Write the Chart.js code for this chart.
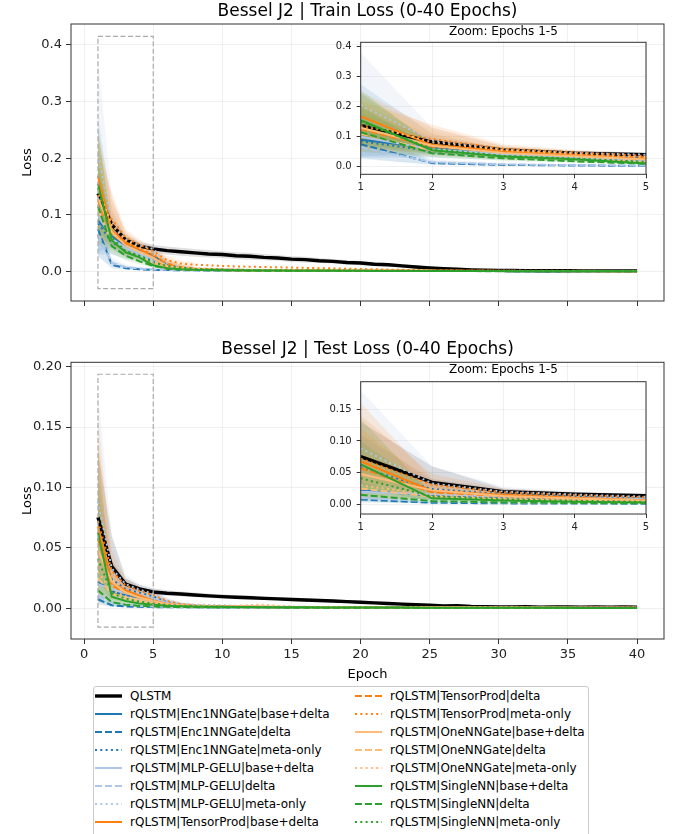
<!DOCTYPE html>
<html>
<head>
<meta charset="utf-8">
<script src="https://cdn.jsdelivr.net/npm/chart.js@4.4.0/dist/chart.umd.min.js"></script>
<style>
html, body { margin: 0; padding: 0; background: #fff; }
body { width: 688px; height: 834px; position: relative; overflow: hidden; font-family: 'DejaVu Sans', sans-serif; }
.box { position: absolute; }
#legend { position: absolute; left: 93px; top: 686px; width: 496px; height: 170px; border: 1px solid #cccccc; border-radius: 3px; background: rgba(255,255,255,0.8); box-sizing: border-box; }
.item { position: absolute; height: 18px; display: flex; align-items: center; font-size: 12px; color: #000; white-space: nowrap; }
.item svg { margin-right: 8px; flex: none; }
</style>
</head>
<body>
<div class="box" style="left:0;top:0;width:688px;height:330px"><canvas id="trainChart"></canvas></div>
<div class="box" style="left:0;top:330px;width:688px;height:356px"><canvas id="testChart"></canvas></div>
<div class="box" style="left:320px;top:18px;width:340px;height:178px"><canvas id="trainZoom"></canvas></div>
<div class="box" style="left:320px;top:356px;width:340px;height:178px"><canvas id="testZoom"></canvas></div>
<div id="legend"></div>
<script>
const EPOCHS = [1,2,3,4,5,6,7,8,9,10,11,12,13,14,15,16,17,18,19,20,21,22,23,24,25,26,27,28,29,30,31,32,33,34,35,36,37,38,39,40];

const SERIES = [
    'QLSTM',
    'rQLSTM|Enc1NNGate|base+delta', 'rQLSTM|Enc1NNGate|delta', 'rQLSTM|Enc1NNGate|meta-only',
    'rQLSTM|MLP-GELU|base+delta', 'rQLSTM|MLP-GELU|delta', 'rQLSTM|MLP-GELU|meta-only',
    'rQLSTM|TensorProd|base+delta', 'rQLSTM|TensorProd|delta', 'rQLSTM|TensorProd|meta-only',
    'rQLSTM|OneNNGate|base+delta', 'rQLSTM|OneNNGate|delta', 'rQLSTM|OneNNGate|meta-only',
    'rQLSTM|SingleNN|base+delta', 'rQLSTM|SingleNN|delta', 'rQLSTM|SingleNN|meta-only'
];

// ---- train loss, mean per epoch ----
const trainQLSTM = [0.138,0.083,0.056,0.045,0.040,0.037,0.035,0.033,0.031,0.030,0.028,0.027,0.025,0.024,0.022,0.021,0.019,0.018,0.016,0.015,0.013,0.012,0.010,0.008,0.0065,0.005,0.004,0.003,0.0025,0.002,0.0018,0.0016,0.0015,0.0014,0.0013,0.0012,0.0012,0.0011,0.0011,0.0010];
const trainEncBase = [0.090,0.062,0.046,0.038,0.028,0.012,0.0060,0.0045,0.0038,0.0032,0.0028,0.0025,0.0022,0.0020,0.0019,0.0018,0.0017,0.0016,0.0015,0.0014,0.0013,0.0012,0.0012,0.0011,0.0011,0.0010,0.0010,0.0009,0.0009,0.0009,0.0008,0.0008,0.0008,0.0007,0.0007,0.0007,0.0007,0.0006,0.0006,0.0006];
const trainEncDelta = [0.075,0.012,0.0060,0.0040,0.0030,0.0026,0.0023,0.0021,0.0019,0.0018,0.0017,0.0016,0.0015,0.0014,0.0013,0.0013,0.0012,0.0012,0.0011,0.0011,0.0010,0.0010,0.0010,0.0009,0.0009,0.0009,0.0008,0.0008,0.0008,0.0008,0.0007,0.0007,0.0007,0.0007,0.0006,0.0006,0.0006,0.0006,0.0006,0.0005];
const trainEncMeta = [0.085,0.052,0.036,0.028,0.020,0.0090,0.0050,0.0035,0.0030,0.0026,0.0023,0.0021,0.0019,0.0018,0.0017,0.0016,0.0015,0.0014,0.0013,0.0013,0.0012,0.0012,0.0011,0.0011,0.0010,0.0010,0.0010,0.0009,0.0009,0.0009,0.0008,0.0008,0.0008,0.0008,0.0007,0.0007,0.0007,0.0007,0.0006,0.0006];
const trainMlpBase = [0.100,0.058,0.042,0.032,0.022,0.010,0.0050,0.0036,0.0031,0.0027,0.0024,0.0022,0.0020,0.0019,0.0018,0.0017,0.0016,0.0015,0.0014,0.0013,0.0013,0.0012,0.0012,0.0011,0.0011,0.0010,0.0010,0.0010,0.0009,0.0009,0.0009,0.0008,0.0008,0.0008,0.0008,0.0007,0.0007,0.0007,0.0007,0.0006];
const trainMlpDelta = [0.065,0.015,0.0080,0.0050,0.0040,0.0030,0.0026,0.0023,0.0021,0.0019,0.0018,0.0017,0.0016,0.0015,0.0014,0.0013,0.0013,0.0012,0.0012,0.0011,0.0011,0.0010,0.0010,0.0010,0.0009,0.0009,0.0009,0.0008,0.0008,0.0008,0.0008,0.0007,0.0007,0.0007,0.0007,0.0006,0.0006,0.0006,0.0006,0.0006];
const trainMlpMeta = [0.205,0.088,0.057,0.046,0.040,0.015,0.0080,0.0050,0.0040,0.0035,0.0031,0.0028,0.0025,0.0023,0.0021,0.0020,0.0019,0.0018,0.0017,0.0016,0.0015,0.0014,0.0014,0.0013,0.0013,0.0012,0.0012,0.0011,0.0011,0.0010,0.0010,0.0010,0.0009,0.0009,0.0009,0.0008,0.0008,0.0008,0.0008,0.0007];
const trainTensorBase = [0.168,0.072,0.052,0.040,0.025,0.0070,0.0045,0.0035,0.0030,0.0027,0.0025,0.0023,0.0021,0.0020,0.0019,0.0018,0.0017,0.0016,0.0015,0.0014,0.0014,0.0013,0.0013,0.0012,0.0012,0.0011,0.0011,0.0010,0.0010,0.0010,0.0009,0.0009,0.0009,0.0008,0.0008,0.0008,0.0008,0.0007,0.0007,0.0007];
const trainTensorDelta = [0.125,0.066,0.049,0.039,0.030,0.014,0.0080,0.0050,0.0040,0.0035,0.0031,0.0028,0.0026,0.0024,0.0022,0.0021,0.0020,0.0019,0.0018,0.0017,0.0016,0.0015,0.0015,0.0014,0.0014,0.0013,0.0013,0.0012,0.0012,0.0011,0.0011,0.0011,0.0010,0.0010,0.0010,0.0009,0.0009,0.0009,0.0009,0.0008];
const trainTensorMeta = [0.135,0.092,0.060,0.048,0.036,0.020,0.014,0.012,0.011,0.010,0.0090,0.0085,0.0080,0.0075,0.0070,0.0065,0.0060,0.0055,0.0050,0.0045,0.0040,0.0035,0.0030,0.0028,0.0025,0.0023,0.0021,0.0020,0.0019,0.0018,0.0017,0.0016,0.0015,0.0014,0.0013,0.0012,0.0012,0.0011,0.0011,0.0010];
const trainOneBase = [0.130,0.070,0.046,0.035,0.024,0.010,0.0050,0.0035,0.0030,0.0026,0.0023,0.0021,0.0019,0.0018,0.0017,0.0016,0.0015,0.0014,0.0013,0.0013,0.0012,0.0012,0.0011,0.0011,0.0010,0.0010,0.0010,0.0009,0.0009,0.0009,0.0008,0.0008,0.0008,0.0008,0.0007,0.0007,0.0007,0.0007,0.0006,0.0006];
const trainOneDelta = [0.110,0.054,0.034,0.025,0.015,0.0070,0.0040,0.0030,0.0026,0.0023,0.0021,0.0019,0.0018,0.0017,0.0016,0.0015,0.0014,0.0013,0.0013,0.0012,0.0012,0.0011,0.0011,0.0010,0.0010,0.0010,0.0009,0.0009,0.0009,0.0008,0.0008,0.0008,0.0008,0.0007,0.0007,0.0007,0.0007,0.0006,0.0006,0.0006];
const trainOneMeta = [0.145,0.082,0.055,0.042,0.032,0.017,0.0090,0.0060,0.0050,0.0042,0.0037,0.0033,0.0030,0.0027,0.0025,0.0023,0.0022,0.0021,0.0020,0.0019,0.0018,0.0017,0.0016,0.0015,0.0015,0.0014,0.0014,0.0013,0.0013,0.0012,0.0012,0.0011,0.0011,0.0011,0.0010,0.0010,0.0010,0.0009,0.0009,0.0009];
const trainSingleBase = [0.155,0.055,0.034,0.025,0.011,0.0060,0.0040,0.0030,0.0026,0.0023,0.0021,0.0019,0.0018,0.0017,0.0016,0.0015,0.0014,0.0013,0.0012,0.0012,0.0011,0.0011,0.0010,0.0010,0.0009,0.0009,0.0009,0.0008,0.0008,0.0008,0.0007,0.0007,0.0007,0.0007,0.0006,0.0006,0.0006,0.0006,0.0005,0.0005];
const trainSingleDelta = [0.115,0.045,0.028,0.018,0.010,0.0050,0.0035,0.0028,0.0024,0.0021,0.0019,0.0017,0.0016,0.0015,0.0014,0.0013,0.0012,0.0012,0.0011,0.0011,0.0010,0.0010,0.0009,0.0009,0.0009,0.0008,0.0008,0.0008,0.0007,0.0007,0.0007,0.0007,0.0006,0.0006,0.0006,0.0006,0.0005,0.0005,0.0005,0.0005];
const trainSingleMeta = [0.148,0.060,0.036,0.027,0.016,0.010,0.0070,0.0050,0.0040,0.0035,0.0031,0.0028,0.0025,0.0023,0.0021,0.0020,0.0019,0.0018,0.0017,0.0016,0.0015,0.0014,0.0014,0.0013,0.0012,0.0012,0.0011,0.0011,0.0010,0.0010,0.0010,0.0009,0.0009,0.0009,0.0008,0.0008,0.0008,0.0008,0.0007,0.0007];

// ---- train loss, spread (low / high); rQLSTM bands only over the first epochs ----
const trainQLSTMLo = [0.100,0.070,0.048,0.038,0.033,0.030,0.028,0.026,0.025,0.024,0.022,0.021,0.020,0.019,0.017,0.016,0.015,0.014,0.012,0.011,0.010,0.009,0.007,0.006,0.004,0.003,0.0025,0.002,0.0015,0.0012,0.0010,0.0010,0.0009,0.0009,0.0008,0.0008,0.0007,0.0007,0.0007,0.0006];
const trainQLSTMHi = [0.180,0.095,0.064,0.052,0.047,0.044,0.042,0.040,0.038,0.036,0.034,0.033,0.031,0.029,0.027,0.026,0.024,0.022,0.020,0.019,0.017,0.015,0.013,0.011,0.009,0.007,0.0055,0.0045,0.0035,0.0030,0.0026,0.0023,0.0021,0.0020,0.0018,0.0017,0.0016,0.0015,0.0015,0.0014];
const trainEncBaseLo = [0.035,0.042,0.034,0.028,0.020,0.007,0.003,0.002];
const trainEncBaseHi = [0.150,0.085,0.060,0.050,0.038,0.019,0.010,0.007];
const trainEncDeltaLo = [0.028,0.006,0.003,0.002,0.0015,0.0013,0.0012,0.0011];
const trainEncDeltaHi = [0.120,0.020,0.010,0.007,0.005,0.004,0.0035,0.003];
const trainEncMetaLo = [0.030,0.030,0.022,0.018,0.012,0.005,0.003,0.002];
const trainEncMetaHi = [0.275,0.110,0.060,0.045,0.032,0.015,0.009,0.006];
const trainMlpBaseLo = [0.040,0.038,0.028,0.022,0.015,0.006,0.003,0.002];
const trainMlpBaseHi = [0.200,0.090,0.060,0.045,0.032,0.016,0.009,0.006];
const trainMlpDeltaLo = [0.025,0.008,0.004,0.003,0.002,0.0016,0.0014,0.0012];
const trainMlpDeltaHi = [0.110,0.025,0.013,0.008,0.006,0.0045,0.004,0.0035];
const trainMlpMetaLo = [0.060,0.060,0.045,0.038,0.033,0.009,0.005,0.003];
const trainMlpMetaHi = [0.380,0.130,0.070,0.055,0.047,0.022,0.012,0.008];
const trainTensorBaseLo = [0.090,0.050,0.040,0.032,0.019,0.004,0.0025,0.002];
const trainTensorBaseHi = [0.250,0.130,0.068,0.050,0.032,0.011,0.007,0.005];
const trainTensorDeltaLo = [0.060,0.045,0.038,0.031,0.023,0.009,0.005,0.003];
const trainTensorDeltaHi = [0.210,0.100,0.062,0.048,0.038,0.020,0.012,0.008];
const trainTensorMetaLo = [0.080,0.070,0.048,0.040,0.028,0.014,0.009,0.008];
const trainTensorMetaHi = [0.220,0.140,0.075,0.056,0.044,0.027,0.019,0.016];
const trainOneBaseLo = [0.060,0.048,0.035,0.027,0.017,0.006,0.003,0.002];
const trainOneBaseHi = [0.230,0.110,0.060,0.044,0.032,0.015,0.008,0.006];
const trainOneDeltaLo = [0.050,0.035,0.024,0.018,0.010,0.004,0.002,0.0015];
const trainOneDeltaHi = [0.190,0.085,0.048,0.034,0.021,0.010,0.006,0.0045];
const trainOneMetaLo = [0.070,0.058,0.042,0.034,0.025,0.011,0.006,0.004];
const trainOneMetaHi = [0.240,0.120,0.068,0.050,0.040,0.024,0.013,0.009];
const trainSingleBaseLo = [0.070,0.040,0.026,0.019,0.007,0.004,0.0025,0.002];
const trainSingleBaseHi = [0.255,0.075,0.044,0.032,0.016,0.009,0.006,0.0045];
const trainSingleDeltaLo = [0.050,0.032,0.020,0.013,0.006,0.003,0.002,0.0016];
const trainSingleDeltaHi = [0.200,0.065,0.038,0.025,0.015,0.008,0.005,0.004];
const trainSingleMetaLo = [0.075,0.045,0.027,0.020,0.011,0.006,0.004,0.003];
const trainSingleMetaHi = [0.245,0.080,0.046,0.034,0.022,0.014,0.010,0.007];

// ---- test loss, mean per epoch ----
const testQLSTM = [0.0753,0.0345,0.0200,0.0160,0.0135,0.0125,0.0118,0.0110,0.0103,0.0097,0.0092,0.0087,0.0082,0.0078,0.0073,0.0069,0.0065,0.0060,0.0055,0.0050,0.0045,0.0040,0.0035,0.0030,0.0025,0.0020,0.0022,0.0016,0.0013,0.0012,0.0011,0.0013,0.0010,0.0011,0.0012,0.0010,0.0011,0.0010,0.0011,0.0010];
const testEncBase = [0.022,0.014,0.011,0.0090,0.0075,0.0040,0.0025,0.0018,0.0015,0.0013,0.0012,0.0011,0.0010,0.0010,0.0009,0.0009,0.0008,0.0008,0.0008,0.0007,0.0007,0.0007,0.0006,0.0006,0.0006,0.0006,0.0005,0.0005,0.0005,0.0005,0.0005,0.0004,0.0004,0.0004,0.0004,0.0004,0.0004,0.0004,0.0003,0.0003];
const testEncDelta = [0.0075,0.0025,0.0015,0.0012,0.0010,0.0009,0.0008,0.0008,0.0007,0.0007,0.0006,0.0006,0.0006,0.0005,0.0005,0.0005,0.0005,0.0004,0.0004,0.0004,0.0004,0.0004,0.0004,0.0003,0.0003,0.0003,0.0003,0.0003,0.0003,0.0003,0.0003,0.0003,0.0002,0.0002,0.0002,0.0002,0.0002,0.0002,0.0002,0.0002];
const testEncMeta = [0.058,0.024,0.016,0.013,0.010,0.0050,0.0030,0.0022,0.0018,0.0015,0.0013,0.0012,0.0011,0.0010,0.0010,0.0009,0.0009,0.0008,0.0008,0.0007,0.0007,0.0007,0.0006,0.0006,0.0006,0.0006,0.0005,0.0005,0.0005,0.0005,0.0005,0.0005,0.0004,0.0004,0.0004,0.0004,0.0004,0.0004,0.0004,0.0003];
const testMlpBase = [0.020,0.016,0.0125,0.010,0.0080,0.0045,0.0028,0.0020,0.0016,0.0014,0.0013,0.0012,0.0011,0.0010,0.0010,0.0009,0.0009,0.0008,0.0008,0.0008,0.0007,0.0007,0.0007,0.0006,0.0006,0.0006,0.0006,0.0005,0.0005,0.0005,0.0005,0.0005,0.0004,0.0004,0.0004,0.0004,0.0004,0.0004,0.0004,0.0004];
const testMlpDelta = [0.010,0.0050,0.0030,0.0020,0.0015,0.0012,0.0010,0.0009,0.0008,0.0008,0.0007,0.0007,0.0006,0.0006,0.0006,0.0005,0.0005,0.0005,0.0005,0.0004,0.0004,0.0004,0.0004,0.0004,0.0004,0.0003,0.0003,0.0003,0.0003,0.0003,0.0003,0.0003,0.0003,0.0003,0.0002,0.0002,0.0002,0.0002,0.0002,0.0002];
const testMlpMeta = [0.088,0.033,0.020,0.0155,0.012,0.0060,0.0035,0.0030,0.0028,0.0026,0.0022,0.0019,0.0017,0.0015,0.0014,0.0013,0.0012,0.0011,0.0010,0.0010,0.0009,0.0009,0.0008,0.0008,0.0008,0.0007,0.0007,0.0007,0.0006,0.0006,0.0006,0.0006,0.0006,0.0005,0.0005,0.0005,0.0005,0.0005,0.0005,0.0004];
const testTensorBase = [0.068,0.021,0.015,0.0105,0.0065,0.0035,0.0025,0.0020,0.0017,0.0015,0.0014,0.0013,0.0012,0.0011,0.0010,0.0010,0.0009,0.0009,0.0008,0.0008,0.0008,0.0007,0.0007,0.0007,0.0006,0.0006,0.0006,0.0006,0.0005,0.0005,0.0005,0.0005,0.0005,0.0004,0.0004,0.0004,0.0004,0.0004,0.0004,0.0004];
const testTensorDelta = [0.057,0.019,0.013,0.0090,0.0060,0.0030,0.0020,0.0016,0.0014,0.0012,0.0011,0.0010,0.0010,0.0009,0.0009,0.0008,0.0008,0.0007,0.0007,0.0007,0.0006,0.0006,0.0006,0.0006,0.0005,0.0005,0.0005,0.0005,0.0005,0.0004,0.0004,0.0004,0.0004,0.0004,0.0004,0.0003,0.0003,0.0003,0.0003,0.0003];
const testTensorMeta = [0.072,0.031,0.019,0.0145,0.011,0.0060,0.0035,0.0025,0.0021,0.0018,0.0016,0.0015,0.0014,0.0013,0.0012,0.0011,0.0011,0.0010,0.0010,0.0009,0.0009,0.0008,0.0008,0.0008,0.0007,0.0007,0.0007,0.0007,0.0006,0.0006,0.0006,0.0006,0.0005,0.0005,0.0005,0.0005,0.0005,0.0005,0.0004,0.0004];
const testOneBase = [0.048,0.022,0.013,0.0090,0.0060,0.0035,0.0025,0.0020,0.0017,0.0015,0.0014,0.0013,0.0012,0.0011,0.0010,0.0010,0.0009,0.0009,0.0008,0.0008,0.0008,0.0007,0.0007,0.0007,0.0006,0.0006,0.0006,0.0006,0.0005,0.0005,0.0005,0.0005,0.0005,0.0004,0.0004,0.0004,0.0004,0.0004,0.0004,0.0004];
const testOneDelta = [0.025,0.012,0.0080,0.0055,0.0040,0.0025,0.0018,0.0014,0.0012,0.0011,0.0010,0.0009,0.0009,0.0008,0.0008,0.0007,0.0007,0.0007,0.0006,0.0006,0.0006,0.0006,0.0005,0.0005,0.0005,0.0005,0.0005,0.0004,0.0004,0.0004,0.0004,0.0004,0.0004,0.0004,0.0003,0.0003,0.0003,0.0003,0.0003,0.0003];
const testOneMeta = [0.030,0.015,0.010,0.0070,0.0050,0.0030,0.0022,0.0018,0.0016,0.0015,0.0018,0.0028,0.0030,0.0020,0.0014,0.0012,0.0011,0.0010,0.0010,0.0009,0.0009,0.0008,0.0008,0.0008,0.0007,0.0007,0.0007,0.0006,0.0006,0.0006,0.0006,0.0006,0.0005,0.0005,0.0005,0.0005,0.0005,0.0005,0.0004,0.0004];
const testSingleBase = [0.063,0.0095,0.0060,0.0040,0.0030,0.0022,0.0018,0.0015,0.0013,0.0012,0.0011,0.0010,0.0009,0.0009,0.0008,0.0008,0.0007,0.0007,0.0007,0.0006,0.0006,0.0006,0.0006,0.0005,0.0005,0.0005,0.0005,0.0005,0.0004,0.0004,0.0004,0.0004,0.0004,0.0004,0.0004,0.0003,0.0003,0.0003,0.0003,0.0003];
const testSingleDelta = [0.015,0.0050,0.0030,0.0020,0.0015,0.0012,0.0010,0.0009,0.0008,0.0007,0.0007,0.0006,0.0006,0.0006,0.0005,0.0005,0.0005,0.0005,0.0004,0.0004,0.0004,0.0004,0.0004,0.0004,0.0003,0.0003,0.0003,0.0003,0.0003,0.0003,0.0003,0.0003,0.0003,0.0002,0.0002,0.0002,0.0002,0.0002,0.0002,0.0002];
const testSingleMeta = [0.041,0.0125,0.0080,0.0055,0.0040,0.0028,0.0020,0.0016,0.0014,0.0012,0.0011,0.0010,0.0010,0.0009,0.0009,0.0008,0.0008,0.0007,0.0007,0.0007,0.0006,0.0006,0.0006,0.0006,0.0005,0.0005,0.0005,0.0005,0.0005,0.0004,0.0004,0.0004,0.0004,0.0004,0.0004,0.0004,0.0003,0.0003,0.0003,0.0003];

// ---- test loss, spread (low / high) ----
const testQLSTMLo = [0.050,0.025,0.016,0.013,0.011,0.0105,0.0098,0.0092,0.0086,0.0080,0.0076,0.0072,0.0068,0.0064,0.0060,0.0056,0.0052,0.0048,0.0044,0.0040,0.0036,0.0032,0.0028,0.0024,0.0020,0.0016,0.0016,0.0012,0.0010,0.0009,0.0008,0.0009,0.0007,0.0008,0.0008,0.0007,0.0008,0.0007,0.0008,0.0007];
const testQLSTMHi = [0.130,0.060,0.025,0.0195,0.0165,0.0150,0.0140,0.0130,0.0123,0.0117,0.0111,0.0105,0.0099,0.0094,0.0089,0.0084,0.0079,0.0074,0.0068,0.0062,0.0056,0.0050,0.0045,0.0040,0.0033,0.0027,0.0030,0.0022,0.0018,0.0016,0.0015,0.0018,0.0014,0.0015,0.0016,0.0014,0.0015,0.0014,0.0015,0.0014];
const testEncBaseLo = [0.008,0.008,0.007,0.006,0.005,0.0025,0.0015,0.001];
const testEncBaseHi = [0.045,0.022,0.016,0.013,0.011,0.006,0.0035,0.0026];
const testEncDeltaLo = [0.003,0.001,0.0007,0.0006,0.0005,0.0005,0.0004,0.0004];
const testEncDeltaHi = [0.015,0.005,0.003,0.0022,0.0018,0.0015,0.0013,0.0012];
const testEncMetaLo = [0.020,0.012,0.010,0.008,0.006,0.003,0.0018,0.0013];
const testEncMetaHi = [0.110,0.040,0.024,0.018,0.014,0.008,0.0045,0.0033];
const testMlpBaseLo = [0.008,0.010,0.008,0.007,0.005,0.003,0.0018,0.0013];
const testMlpBaseHi = [0.040,0.024,0.018,0.014,0.011,0.0065,0.004,0.003];
const testMlpDeltaLo = [0.004,0.002,0.0015,0.001,0.0008,0.0007,0.0006,0.0005];
const testMlpDeltaHi = [0.020,0.009,0.005,0.0035,0.0025,0.002,0.0017,0.0015];
const testMlpMetaLo = [0.030,0.018,0.014,0.011,0.009,0.004,0.0025,0.002];
const testMlpMetaHi = [0.180,0.060,0.028,0.020,0.016,0.009,0.005,0.004];
const testTensorBaseLo = [0.030,0.014,0.011,0.008,0.0045,0.0022,0.0015,0.0012];
const testTensorBaseHi = [0.160,0.040,0.021,0.014,0.009,0.005,0.0035,0.0028];
const testTensorDeltaLo = [0.025,0.012,0.009,0.006,0.004,0.002,0.0013,0.001];
const testTensorDeltaHi = [0.120,0.032,0.018,0.012,0.008,0.0045,0.003,0.0023];
const testTensorMetaLo = [0.035,0.020,0.014,0.011,0.008,0.004,0.0025,0.0018];
const testTensorMetaHi = [0.140,0.048,0.025,0.018,0.014,0.008,0.005,0.0035];
const testOneBaseLo = [0.020,0.013,0.008,0.006,0.004,0.0022,0.0016,0.0012];
const testOneBaseHi = [0.120,0.035,0.018,0.012,0.008,0.005,0.0035,0.0028];
const testOneDeltaLo = [0.010,0.006,0.004,0.003,0.0022,0.0014,0.001,0.0008];
const testOneDeltaHi = [0.060,0.020,0.012,0.008,0.006,0.0037,0.0026,0.002];
const testOneMetaLo = [0.012,0.008,0.006,0.0045,0.003,0.0018,0.0013,0.001];
const testOneMetaHi = [0.070,0.025,0.015,0.010,0.007,0.0045,0.0032,0.0026];
const testSingleBaseLo = [0.025,0.005,0.0035,0.0025,0.0018,0.0013,0.001,0.0009];
const testSingleBaseHi = [0.135,0.016,0.009,0.006,0.0045,0.0032,0.0026,0.0022];
const testSingleDeltaLo = [0.005,0.002,0.0015,0.001,0.0008,0.0006,0.0005,0.0005];
const testSingleDeltaHi = [0.035,0.009,0.005,0.0032,0.0024,0.0019,0.0016,0.0014];
const testSingleMetaLo = [0.015,0.007,0.005,0.0035,0.0025,0.0018,0.0013,0.001];
const testSingleMetaHi = [0.100,0.022,0.012,0.008,0.006,0.004,0.003,0.0024];

const TRAIN_MEAN = [trainQLSTM, trainEncBase, trainEncDelta, trainEncMeta, trainMlpBase, trainMlpDelta, trainMlpMeta, trainTensorBase, trainTensorDelta, trainTensorMeta, trainOneBase, trainOneDelta, trainOneMeta, trainSingleBase, trainSingleDelta, trainSingleMeta];
const TRAIN_LO = [trainQLSTMLo, trainEncBaseLo, trainEncDeltaLo, trainEncMetaLo, trainMlpBaseLo, trainMlpDeltaLo, trainMlpMetaLo, trainTensorBaseLo, trainTensorDeltaLo, trainTensorMetaLo, trainOneBaseLo, trainOneDeltaLo, trainOneMetaLo, trainSingleBaseLo, trainSingleDeltaLo, trainSingleMetaLo];
const TRAIN_HI = [trainQLSTMHi, trainEncBaseHi, trainEncDeltaHi, trainEncMetaHi, trainMlpBaseHi, trainMlpDeltaHi, trainMlpMetaHi, trainTensorBaseHi, trainTensorDeltaHi, trainTensorMetaHi, trainOneBaseHi, trainOneDeltaHi, trainOneMetaHi, trainSingleBaseHi, trainSingleDeltaHi, trainSingleMetaHi];
const TEST_MEAN = [testQLSTM, testEncBase, testEncDelta, testEncMeta, testMlpBase, testMlpDelta, testMlpMeta, testTensorBase, testTensorDelta, testTensorMeta, testOneBase, testOneDelta, testOneMeta, testSingleBase, testSingleDelta, testSingleMeta];
const TEST_LO = [testQLSTMLo, testEncBaseLo, testEncDeltaLo, testEncMetaLo, testMlpBaseLo, testMlpDeltaLo, testMlpMetaLo, testTensorBaseLo, testTensorDeltaLo, testTensorMetaLo, testOneBaseLo, testOneDeltaLo, testOneMetaLo, testSingleBaseLo, testSingleDeltaLo, testSingleMetaLo];
const TEST_HI = [testQLSTMHi, testEncBaseHi, testEncDeltaHi, testEncMetaHi, testMlpBaseHi, testMlpDeltaHi, testMlpMetaHi, testTensorBaseHi, testTensorDeltaHi, testTensorMetaHi, testOneBaseHi, testOneDeltaHi, testOneMetaHi, testSingleBaseHi, testSingleDeltaHi, testSingleMetaHi];

const X_TICKS = [0,5,10,15,20,25,30,35,40];
const ZOOM_X_TICKS = [1,2,3,4,5];
const TRAIN_Y_TICKS = [0,0.1,0.2,0.3,0.4];
const TEST_Y_TICKS = [0,0.05,0.1,0.15,0.2];
const TEST_ZOOM_Y_TICKS = [0,0.05,0.1,0.15];

// ---- styles ----
const BLUE = '#1f77b4', LBLUE = '#aec7e8', ORANGE = '#ff7f0e', LORANGE = '#ffbb78', GREEN = '#2ca02c';
const LINE_COLORS = ['#000000', BLUE, BLUE, BLUE, LBLUE, LBLUE, LBLUE, ORANGE, ORANGE, ORANGE, LORANGE, LORANGE, LORANGE, GREEN, GREEN, GREEN];
const BAND_COLORS = ['rgba(0,0,0,0.12)',
    'rgba(31,119,180,0.13)', 'rgba(31,119,180,0.13)', 'rgba(31,119,180,0.13)',
    'rgba(174,199,232,0.16)', 'rgba(174,199,232,0.16)', 'rgba(174,199,232,0.16)',
    'rgba(255,127,14,0.13)', 'rgba(255,127,14,0.13)', 'rgba(255,127,14,0.13)',
    'rgba(255,187,120,0.16)', 'rgba(255,187,120,0.16)', 'rgba(255,187,120,0.16)',
    'rgba(44,160,44,0.13)', 'rgba(44,160,44,0.13)', 'rgba(44,160,44,0.13)'];
const SOLID = [], DASHED = [7, 3], DOTTED = [2, 3.3];
const DASHES = [SOLID, SOLID, DASHED, DOTTED, SOLID, DASHED, DOTTED, SOLID, DASHED, DOTTED, SOLID, DASHED, DOTTED, SOLID, DASHED, DOTTED];
const LINE_WIDTHS = [3.4, 2, 2, 2, 2, 2, 2, 2, 2, 2, 2, 2, 2, 2, 2, 2];

Chart.defaults.font.family = "'DejaVu Sans', sans-serif";
Chart.defaults.color = '#222';

function points(values) {
    return values.map((v, k) => ({ x: EPOCHS[k], y: v }));
}

function makeDatasets(means, los, his) {
    const sets = [];
    for (let i = 0; i < SERIES.length; ++i) {
        sets.push({
            label: SERIES[i] + ' low', data: points(los[i]),
            borderColor: 'rgba(0,0,0,0)', borderWidth: 0, pointRadius: 0, fill: false, order: 100 - i
        });
        sets.push({
            label: SERIES[i] + ' high', data: points(his[i]),
            borderColor: 'rgba(0,0,0,0)', borderWidth: 0, pointRadius: 0,
            fill: '-1', backgroundColor: BAND_COLORS[i], order: 100 - i
        });
        sets.push({
            label: SERIES[i], data: points(means[i]),
            borderColor: LINE_COLORS[i], borderWidth: LINE_WIDTHS[i], borderDash: DASHES[i],
            pointRadius: 0, fill: false, tension: 0, order: 50 - i
        });
    }
    return sets;
}

// white axes background, frame, and the dashed zoom rectangle
const framePlugin = {
    id: 'frame',
    beforeDraw(chart, args, opts) {
        if (!opts.fill) return;
        const a = chart.chartArea, ctx = chart.ctx;
        ctx.save();
        ctx.fillStyle = '#ffffff';
        ctx.fillRect(a.left, a.top, a.right - a.left, a.bottom - a.top);
        ctx.restore();
    },
    afterDatasetsDraw(chart, args, opts) {
        const a = chart.chartArea, ctx = chart.ctx;
        ctx.save();
        if (opts.rect) {
            const x = chart.scales.x, y = chart.scales.y;
            const x0 = x.getPixelForValue(opts.rect[0]), x1 = x.getPixelForValue(opts.rect[1]);
            const y0 = y.getPixelForValue(opts.rect[2]), y1 = y.getPixelForValue(opts.rect[3]);
            ctx.strokeStyle = '#aaaaaa';
            ctx.lineWidth = 1.2;
            ctx.setLineDash([5, 2.5]);
            ctx.strokeRect(x0, y1, x1 - x0, y0 - y1);
            ctx.setLineDash([]);
        }
        ctx.strokeStyle = '#333333';
        ctx.lineWidth = 1;
        ctx.strokeRect(a.left, a.top, a.right - a.left, a.bottom - a.top);
        ctx.restore();
    }
};

function makeChart(id, means, los, his, cfg) {
    const gridOpts = { color: 'rgba(0,0,0,0.08)', lineWidth: 0.8, tickColor: '#333333', tickWidth: 1, tickLength: cfg.tickLength };
    return new Chart(document.getElementById(id), {
        type: 'line',
        data: { datasets: makeDatasets(means, los, his) },
        options: {
            responsive: true,
            maintainAspectRatio: false,
            animation: false,
            events: [],
            layout: { padding: { left: 0, right: cfg.rightPad, top: 0, bottom: 0 } },
            plugins: {
                legend: { display: false },
                tooltip: { enabled: false },
                title: {
                    display: true, text: cfg.title, fullSize: false, color: '#000',
                    font: { size: cfg.titleSize, weight: 'normal', lineHeight: 1.2 },
                    padding: cfg.titlePad
                },
                frame: { fill: cfg.fill, rect: cfg.rect }
            },
            scales: {
                x: {
                    type: 'linear', min: cfg.xMin, max: cfg.xMax,
                    afterBuildTicks: s => { s.ticks = cfg.xTicks.map(v => ({ value: v })); },
                    afterFit: s => { s.height = cfg.xHeight; s.paddingLeft = 0; s.paddingRight = 0; },
                    grid: gridOpts,
                    border: { display: false },
                    ticks: { display: cfg.xLabels, font: { size: cfg.tickSize }, padding: cfg.xPad, maxRotation: 0, autoSkip: false, callback: v => String(v) },
                    title: cfg.xTitle ? { display: true, text: cfg.xTitle, color: '#000', font: { size: 13 }, padding: { top: 0, bottom: 4 } } : { display: false }
                },
                y: {
                    type: 'linear', min: cfg.yMin, max: cfg.yMax,
                    afterBuildTicks: s => { s.ticks = cfg.yTicks.map(v => ({ value: v })); },
                    afterFit: s => { s.width = cfg.yWidth; s.paddingTop = 0; s.paddingBottom = 0; },
                    grid: gridOpts,
                    border: { display: false },
                    ticks: { font: { size: cfg.tickSize }, padding: cfg.yPad, autoSkip: false, callback: v => v.toFixed(cfg.digits) },
                    title: cfg.yTitle ? { display: true, text: cfg.yTitle, color: '#000', font: { size: 13 }, padding: { top: 20, bottom: 0 } } : { display: false }
                }
            }
        },
        plugins: [framePlugin]
    });
}

makeChart('trainChart', TRAIN_MEAN, TRAIN_LO, TRAIN_HI, {
    title: 'Bessel J2 | Train Loss (0-40 Epochs)', titleSize: 17, titlePad: { top: 1, bottom: 2.6 },
    rightPad: 24, xMin: -0.95, xMax: 41.95, xTicks: X_TICKS, xHeight: 29, xLabels: false, xPad: 3,
    yMin: -0.052, yMax: 0.437, yTicks: TRAIN_Y_TICKS, yWidth: 71, yPad: 4, digits: 1,
    tickLength: 5, tickSize: 13, yTitle: 'Loss', fill: false, rect: [1, 5, -0.030, 0.415]
});

makeChart('testChart', TEST_MEAN, TEST_LO, TEST_HI, {
    title: 'Bessel J2 | Test Loss (0-40 Epochs)', titleSize: 17, titlePad: { top: 9.8, bottom: 2.1 },
    rightPad: 24, xMin: -0.95, xMax: 41.95, xTicks: X_TICKS, xHeight: 47, xLabels: true, xPad: 3,
    yMin: -0.0254, yMax: 0.2036, yTicks: TEST_Y_TICKS, yWidth: 71, yPad: 4, digits: 2,
    tickLength: 5, tickSize: 13, yTitle: 'Loss', xTitle: 'Epoch', fill: false, rect: [1, 5, -0.0155, 0.1937]
});

makeChart('trainZoom', TRAIN_MEAN, TRAIN_LO, TRAIN_HI, {
    title: 'Zoom: Epochs 1-5', titleSize: 12, titlePad: { top: 7, bottom: 2.9 },
    rightPad: 14, xMin: 1, xMax: 5, xTicks: ZOOM_X_TICKS, xHeight: 21.7, xLabels: true, xPad: 3,
    yMin: -0.0253, yMax: 0.4147, yTicks: TRAIN_Y_TICKS, yWidth: 40.7, yPad: 5, digits: 1,
    tickLength: 4, tickSize: 10, fill: true
});

makeChart('testZoom', TEST_MEAN, TEST_LO, TEST_HI, {
    title: 'Zoom: Epochs 1-5', titleSize: 12, titlePad: { top: 7, bottom: 4.3 },
    rightPad: 14, xMin: 1, xMax: 5, xTicks: ZOOM_X_TICKS, xHeight: 20, xLabels: true, xPad: 3,
    yMin: -0.0153, yMax: 0.1936, yTicks: TEST_ZOOM_Y_TICKS, yWidth: 40.7, yPad: 5, digits: 2,
    tickLength: 4, tickSize: 10, fill: true
});

// legend: two columns, filled column by column
const legend = document.getElementById('legend');
SERIES.forEach((name, i) => {
    const col = i < 8 ? 0 : 1;
    const row = i % 8;
    const item = document.createElement('div');
    item.className = 'item';
    item.style.left = (col ? 261 : 1) + 'px';
    item.style.top = (row * 18) + 'px';
    const dash = DASHES[i].length ? DASHES[i].join(',') : 'none';
    item.innerHTML = '<svg width="27" height="18"><line x1="0" y1="9" x2="27" y2="9" stroke="' + LINE_COLORS[i] +
        '" stroke-width="' + LINE_WIDTHS[i] + '" stroke-dasharray="' + dash + '"/></svg><span>' + name + '</span>';
    legend.appendChild(item);
});
</script>
</body>
</html>
